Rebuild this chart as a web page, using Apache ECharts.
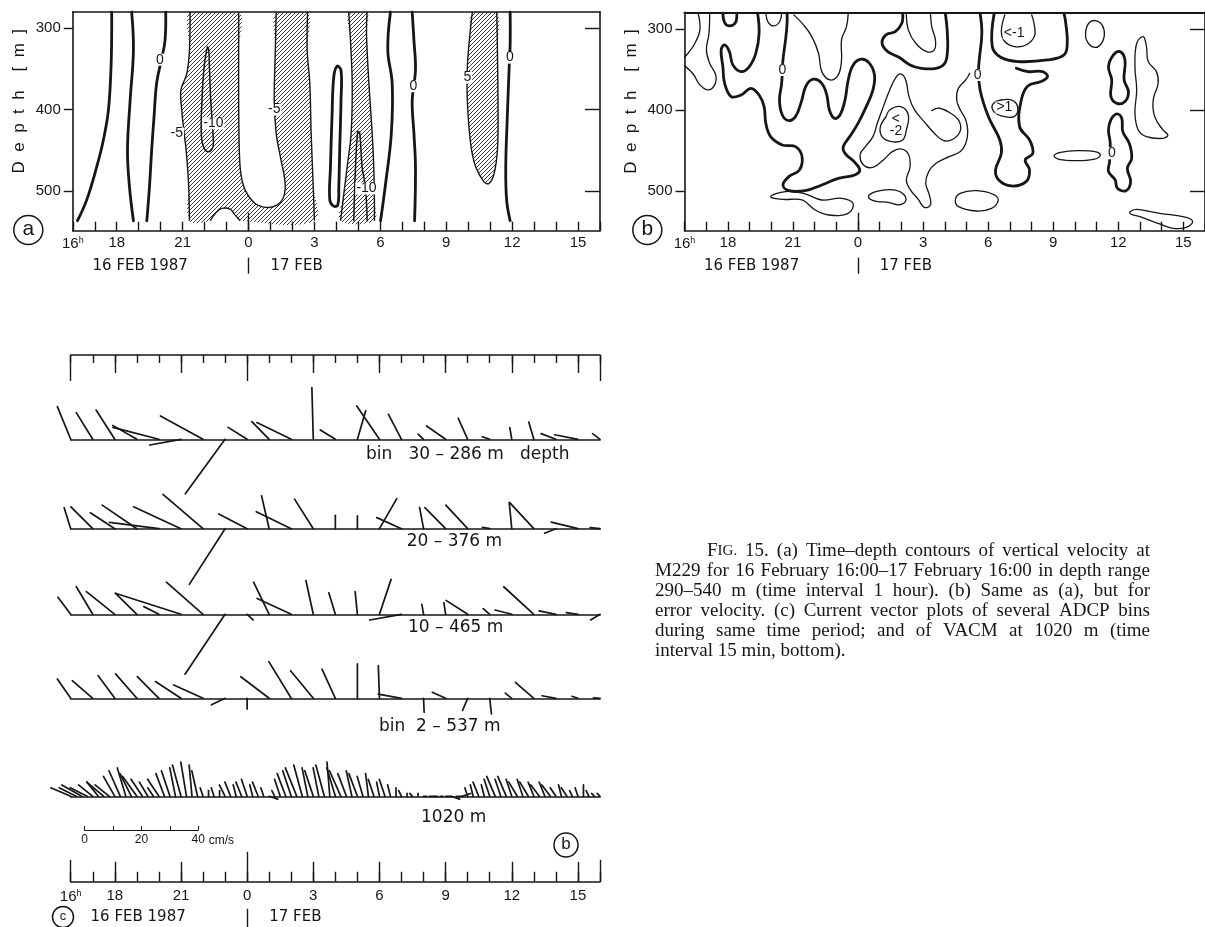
<!DOCTYPE html>
<html><head><meta charset="utf-8">
<script src="https://cdn.jsdelivr.net/npm/echarts@6/dist/echarts.min.js"></script>
<style>html,body{margin:0;padding:0;background:#fff}#c{width:1205px;height:927px}</style>
</head><body><div id="c"></div>
<script>
// ---------------- DATA ----------------
const LABEL_HOURS = [16, 18, 21, 24, 27, 30, 33, 36, 39];
const DATE_LABEL_POS = [16.9, 25];
const DATE_LABELS = ['16 FEB 1987', '17 FEB'];
const DEPTH_TICKS = [300, 400, 500];
const THREE_HOURLY = [18, 21, 27, 30, 33, 36, 39];

// Panel (a): vertical velocity contours, points are [hour since 16 Feb 00h, depth m]
const A_ZERO_LINES = [
  [[16.21,536.3],[16.63,511],[17.09,470],[17.39,437.5],[17.62,401],[17.74,348],[17.77,307],[17.77,280.4]],
  [[18.68,280.4],[18.76,327],[18.61,388.6],[18.49,449.8],[18.58,494.7],[18.76,536.3]],
  [[20.23,280.4],[20.20,315],[20.05,337],[19.82,367],[19.70,408],[19.59,449.8],[19.49,494.7],[19.37,536.3]],
  [[28.03,346.9],[28.21,351.8],[28.21,388.6],[28.15,449.8],[28.11,494.7],[28.06,517.1],[27.88,518.4],[27.70,511],[27.73,470.2],[27.80,409],[27.88,360],[28.03,346.9]],
  [[30.46,280.4],[30.34,327.3],[30.54,368.2],[30.50,429.4],[30.24,490.6],[30.01,536.3]],
  [[31.45,280.4],[31.53,315.1],[31.60,351.8],[31.45,388.6],[31.53,429.4],[31.60,470.2],[31.56,536.3]],
  [[35.91,280.4],[35.91,319.2],[35.86,351.8],[35.78,409],[35.71,470.2],[35.75,511],[35.91,536.3]]
];
const A_OTHER_LINES = [
  [[22.13,323.3],[21.98,347.8],[21.88,388.6],[21.85,429.4],[21.95,445.7],[22.18,451.8],[22.38,445.7],[22.38,429.4],[22.28,388.6],[22.22,347.8],[22.19,327.3],[22.13,323.3]],
  [[28.79,536.3],[28.87,470.2],[28.97,427.3],[29.06,428.6],[29.17,470.2],[29.32,494.7],[29.40,536.3]]
];
const A_HATCHED = [
  [[21.34,280.4],[21.31,327.3],[21.19,355.9],[20.92,376.3],[20.96,400.8],[21.07,429.4],[21.16,449.8],[21.27,490.6],[21.31,536.3],[22.26,536.3],[22.48,527.3],[22.79,521.2],[23.17,522.4],[23.39,529.4],[23.62,536.3],[27.0,536.3],[26.94,490.6],[26.85,429.4],[26.79,368.2],[26.67,327.3],[26.69,280.4],[25.26,280.4],[25.22,327.3],[25.17,388.6],[25.26,429.4],[25.45,458],[25.63,482.4],[25.67,496.7],[25.57,509],[25.29,517.1],[24.84,520],[24.30,515.1],[23.85,498.8],[23.65,478.4],[23.58,449.8],[23.55,388.6],[23.55,327.3],[23.55,280.4]],
  [[28.56,280.4],[28.64,315.1],[28.72,368.2],[28.67,429.4],[28.49,470.2],[28.34,502.9],[28.19,536.3],[29.73,536.3],[29.73,511],[29.70,470.2],[29.63,429.4],[29.48,368.2],[29.37,307],[29.40,280.4]],
  [[34.19,280.4],[35.30,280.4],[35.33,327.3],[35.36,409],[35.33,449.8],[35.18,478.4],[34.95,490.6],[34.72,488.6],[34.34,470.2],[34.11,441.6],[33.96,388.6],[33.96,347.8],[34.08,307]]
];
const A_LABELS = [[19.97,338.8,'0'],[20.73,429.4,'-5'],[22.40,417,'-10'],[25.17,400,'-5'],[29.37,496.7,'-10'],[31.50,371.4,'0'],[33.96,360.8,'5'],[35.90,336.3,'0']];

// Panel (b): error velocity contours
const B_ZERO_LINES = [
  [[17.77,280.7],[17.85,292.2],[18.07,296.3],[18.35,292.2],[18.41,280.7]],
  [[19.37,280.7],[19.44,305.3],[19.29,330],[18.99,346.5],[18.61,352.7],[18.23,344.4],[18.07,328],[17.85,319.8],[17.69,325.9],[17.77,346.5],[17.85,367.1],[18.15,383.5],[18.61,381.5],[19.06,373.3],[19.44,381.5],[19.67,395.9],[19.75,416.5],[19.97,432.9],[20.51,443.2],[21.12,445.3],[21.42,457.6],[21.30,474.1],[20.81,482.3],[20.54,492.6],[20.81,499.6],[21.57,499.6],[22.33,492.6],[23.09,484.4],[23.85,480.2],[24.08,474.1],[23.82,463.8],[23.40,453.5],[23.32,445.3],[23.62,432.9],[24.00,416.5],[24.38,395.9],[24.69,375.3],[24.76,356.8],[24.53,342.4],[24.16,337.4],[23.78,344.4],[23.55,363],[23.40,387.7],[23.17,406.2],[22.91,410.3],[22.68,400],[22.56,381.5],[22.33,367.1],[21.95,362.1],[21.60,370.4],[21.39,389.7],[21.12,408.2],[20.81,413.2],[20.51,406.2],[20.38,387.7],[20.48,367.1],[20.54,338.3],[20.66,313.6],[20.73,293],[20.73,280.7]],
  [[26.06,280.7],[26.02,293],[25.72,303.3],[25.29,307.4],[25.11,317.7],[25.37,328],[25.89,335],[26.40,344.4],[26.92,348.6],[27.60,348.6],[27.98,343.2],[28.12,330],[28.12,305.3],[28.03,281]],
  [[29.63,280.7],[29.71,305.3],[29.59,338.3],[29.56,350.6],[29.63,375.3],[30.01,408.2],[30.54,437],[30.61,453.5],[30.34,474.1],[30.49,486.4],[31.07,493.8],[31.75,488.5],[31.91,474.1],[31.71,461.7],[32.06,453.5],[31.91,437],[31.45,420.6],[31.53,387.7],[31.83,370.4],[32.44,365],[32.74,358.8],[32.51,352.7],[31.83,352.7],[31.30,348.6]],
  [[30.28,280.7],[30.19,321.8],[30.58,335],[31.37,340.3],[32.74,338.3],[33.50,332.1],[33.65,317.7],[33.58,293],[33.50,280.7]],
  [[35.78,332.1],[36.08,328],[36.31,338.3],[36.27,363],[36.47,377.4],[36.31,389.7],[35.93,391.8],[35.66,383.5],[35.70,363],[35.55,346.5],[35.78,332.1]],
  [[35.66,412.3],[35.93,404.9],[36.16,410.3],[36.21,426.7],[36.51,441.2],[36.62,459.7],[36.42,472],[36.57,488.5],[36.36,499.6],[35.96,496.7],[35.86,486.4],[35.55,476.1],[35.60,463.8],[35.63,441.2],[35.55,424.7],[35.66,412.3]]
];
const B_OTHER_LINES = [
  [[16.63,280.7],[16.71,301.2],[16.48,317.7],[16.17,330],[16.0,335]],
  [[16.0,345.3],[16.40,355.6],[16.71,369.1],[17.09,375.3],[17.39,369.1],[17.44,356.8],[17.16,342.4],[17.01,325.9],[17.13,305.3],[17.16,280.7]],
  [[19.75,280.7],[19.87,292.2],[20.13,296.3],[20.39,290.9],[20.48,280.7]],
  [[21.04,282.7],[21.49,295.1],[21.87,309.5],[22.18,330],[22.33,352.7],[22.71,363],[23.09,356.8],[23.24,338.3],[23.24,313.6],[23.47,297.1],[23.55,280.7]],
  [[19.97,507],[20.66,500.8],[21.49,502.9],[22.33,511.1],[23.24,509],[23.77,515.2],[23.55,527.6],[22.64,529.6],[22.03,523.5],[21.42,511.1],[20.51,510.3],[19.97,507]],
  [[25.46,400],[25.97,395.9],[26.32,406.2],[26.23,424.7],[26.06,437],[25.54,439.1],[25.11,432.9],[25.03,420.6],[25.29,408.2],[25.46,400]],
  [[29.15,354.7],[28.97,363],[28.63,373.3],[28.55,387.7],[28.72,400],[28.97,412.3],[29.06,426.7],[28.97,441.2],[28.72,451.4],[28.20,457.6],[27.60,465.8],[27.26,476.1],[27.12,490.5],[27.29,504.9],[27.34,517.3],[27.05,520.2],[26.78,510.3],[26.40,497.9],[26.23,486.4],[26.40,470],[26.32,454.3],[25.97,448.1],[25.58,451.4],[25.17,461.7],[24.69,470.8],[24.25,468],[24.10,455],[24.34,445.3],[24.69,432.9],[24.89,416.5],[25.17,395.9],[25.46,375.3],[25.75,359.7],[25.97,355.6],[26.20,363],[26.35,383.5],[26.61,400],[27.05,414.4],[27.52,428.8],[27.95,437.9],[28.37,436.2],[28.72,425.5],[28.63,412.3],[28.20,402.9],[27.74,397.9],[27.40,400.8]],
  [[24.51,504.9],[25.03,499.6],[25.72,498.8],[26.10,504],[26.20,512],[25.90,517],[25.40,514],[24.90,513],[24.55,510],[24.51,504.9]],
  [[26.23,280.7],[26.32,301.2],[26.66,317.7],[27.17,328],[27.52,325.9],[27.57,313.6],[27.40,297.1],[27.34,280.7]],
  [[30.77,282.7],[30.61,303.3],[30.77,315.6],[31.22,321.8],[31.75,319.8],[32.13,309.5],[32.13,295.1],[32.01,282.7]],
  [[30.23,392.6],[30.61,387.7],[31.14,388.5],[31.37,397.9],[31.19,408.2],[30.61,407.4],[30.23,400.8],[30.23,392.6]],
  [[28.49,511.1],[28.71,502.9],[29.47,499.6],[30.31,505],[30.46,512.3],[30.16,521.4],[29.47,524.7],[28.64,519.3],[28.49,511.1]],
  [[33.04,456.4],[33.34,452.3],[34.10,450.2],[35.02,451.9],[35.17,456.4],[34.86,460.9],[34.10,462.6],[33.27,460.9],[33.04,456.4]],
  [[34.49,305.3],[34.64,293],[34.94,289.7],[35.25,295.1],[35.36,307.4],[35.17,319.8],[34.87,322.6],[34.57,315.6],[34.49,305.3]],
  [[36.85,317.7],[37.15,309.5],[37.30,321.8],[37.38,340.3],[37.76,352.7],[37.84,367.1],[37.61,387.7],[37.68,408.2],[38.06,424.7],[38.29,430.9],[38.06,435],[37.30,432.9],[36.92,424.7],[36.77,404.1],[36.85,375.3],[36.77,346.5],[36.85,317.7]],
  [[36.54,525.5],[36.85,522.6],[37.91,527.6],[39.13,532.5],[39.43,537.9],[39.13,544.9],[38.52,546.1],[37.91,540.7],[37.00,531.7],[36.57,528.4],[36.54,525.5]]
];
const B_LABELS = [[20.51,350.6,'0'],[29.52,356.8,'0'],[35.71,453.5,'0'],[31.2,305.3,'<-1'],[30.75,397,'>1'],[25.75,418.5,'<\n-2']];

// Panel (c): current vectors [u east, v north] in cm/s, hourly 16:00 .. 16:00
const BIN30 = [[-4.7,11.5],[-5.8,9.4],[-6.6,10.3],[-8.5,4.9],[-16.2,4.2],[-11.0,-2.0],[-15.0,8.2],[-14.0,-19.2],[-6.7,4.2],[-6.1,6.2],[-12.1,5.9],[-0.5,18.2],[-5.3,3.3],[2.9,10.0],[-8.0,11.7],[-4.6,8.8],[-1.9,1.8],[-6.7,4.7],[-3.3,7.4],[-2.6,0.9],[-0.7,4.1],[-1.8,6.1],[-5.2,2.0],[-8.2,1.6],[-2.6,2.0]];
const BIN20 = [[-2.3,7.4],[-7.7,7.7],[-8.6,5.6],[-12.2,8.3],[-17.4,2.2],[-16.7,7.7],[-14.1,12.1],[-12.6,-19.6],[-10.0,5.2],[-2.7,11.6],[-12.3,6.0],[-6.6,10.4],[0,4.7],[0,4.5],[6.1,10.6],[-8.7,3.9],[-1.4,7.4],[-7.3,7.4],[-7.7,8.3],[-2.6,0.5],[-0.9,9.2],[-8.5,9.2],[-4.0,-1.6],[-9.4,2.3],[-3.5,0.4]];
const BIN10 = [[-4.5,6.0],[-5.8,9.7],[-10.0,8.0],[-7.5,7.4],[-5.3,2.7],[-23.1,7.4],[-12.9,11.3],[-14.1,-21.1],[2.1,-2.0],[-5.5,11.3],[-12.0,5.6],[-2.6,11.9],[-2.3,7.6],[-0.8,8.0],[4.1,12.3],[-11.2,-2.0],[-0.6,3.5],[-0.6,4.1],[-7.6,4.9],[-2.3,2.0],[-5.9,1.5],[-10.6,9.7],[-5.9,1.2],[-4.1,0.6],[-3.3,-2.0]];
const BIN2 = [[-4.7,6.8],[-7.2,6.2],[-5.9,8.0],[-7.5,8.6],[-7.6,7.6],[-9.0,5.9],[-10.3,4.7],[-4.8,-2.3],[0,-3.8],[-10.0,7.6],[-7.9,12.9],[-8.0,9.7],[-4.7,10.3],[0,12.1],[-0.4,11.5],[-8.2,1.5],[0.2,-4.9],[-4.7,2.1],[-1.8,-4.3],[0.6,-5.5],[-2.3,1.8],[-6.5,5.6],[-4.9,0.9],[-2.1,0.7],[-2.3,0.2]];
// VACM 1020 m, every 15 min
const VACM1020 = [
 [-7,3],[-6,3],[-7,4],[-6,3], [-5,4],[-4,5],[-6,5],[-5,4], [-4,7],[-4,9],[-3,10],[-4,8],
 [-5,7],[-4,6],[-3,5],[-2,3], [-4,6],[-3,8],[-3,9],[-2,10], [-3,11],[-2,12],[-1,11],[-2,9],
 [-1,3],[0,2],[-1,3],[0,2], [-2,4],[-2,5],[-1,4],[-2,5], [-2,6],[-1,4],[-2,5],[-1,3],
 [3,-1],[-1,2],[-2,6],[-3,8], [-3,9],[-4,10],[-3,11],[-2,10], [-3,9],[-2,10],[-3,11],[-1,12],
 [-3,10],[-4,9],[-3,8],[-2,9], [-3,8],[-2,7],[-1,8],[-2,6], [-1,5],[-2,6],[-1,4],[0,3],
 [-1,2],[0,1],[-1,1],[0,1], [1,0],[2,0],[1,0],[1,0], [2,0],[3,-1],[2,0],[3,1],
 [-1,3],[-1,4],[-2,5],[-1,4], [-2,6],[-3,7],[-2,6],[-3,7], [-2,6],[-3,5],[-2,6],[-3,5],
 [-2,5],[-3,4],[-2,5],[-3,4], [-2,3],[-1,4],[-2,3],[-1,2], [-1,3],[0,4],[-1,2],[-1,1],
 [-1,1]
];
const BIN_NAMES = ['bin   30 – 286 m   depth', '20 – 376 m', '10 – 465 m', 'bin  2 – 537 m', '1020 m'];
const SCALE_LABELS = [0, 20, 40];
const CAPTION_LINES = [
  'FIG. 15. (a) Time–depth contours of vertical velocity at',
  'M229 for 16 February 16:00–17 February 16:00 in depth range',
  '290–540 m (time interval 1 hour). (b) Same as (a), but for',
  'error velocity. (c) Current vector plots of several ADCP bins',
  'during same time period; and of VACM at 1020 m (time',
  'interval 15 min, bottom).'
];

// ---------------- STYLE / LAYOUT ----------------
const INK = '#161616';
const SANS = '"Liberation Sans", Arial, sans-serif';
const WIDE = '"DejaVu Sans", "Liberation Sans", sans-serif';
const SERIF = '"Liberation Serif", "Times New Roman", serif';
const K = 2.84; // px per cm/s in panel (c)
const BASES = [439.3, 528.7, 614.3, 698.3, 796.3];

function hatchCanvas() {
  const c = document.createElement('canvas'); c.width = 4; c.height = 4;
  const g = c.getContext('2d'); g.strokeStyle = '#262626'; g.lineWidth = 0.9;
  g.beginPath(); g.moveTo(0, 4); g.lineTo(4, 0); g.moveTo(-1, 1); g.lineTo(1, -1); g.moveTo(3, 5); g.lineTo(5, 3); g.stroke();
  return c;
}
const HATCH = { image: hatchCanvas(), repeat: 'repeat' };

function hourFmt(v) { return v === 16 ? '16{s|h}' : String(v % 24); }
const lineSt = (w) => ({ color: INK, width: w });

const grids = [], xAxes = [], yAxes = [];
function addGrid(rect, xCfgs, yCfgs) {
  const g = grids.length; grids.push(rect);
  const xi = xAxes.length, yi = yAxes.length;
  xCfgs.forEach(c => xAxes.push(Object.assign({ gridIndex: g }, c)));
  yCfgs.forEach(c => yAxes.push(Object.assign({ gridIndex: g }, c)));
  return { g: g, x: xi, y: yi };
}
function tx(extra) {
  return Object.assign({ type: 'value', min: 16, max: 40, interval: 1,
    splitLine: { show: false }, axisLine: { show: false, onZero: false }, axisTick: { show: false }, axisLabel: { show: false } }, extra);
}
const noLine = { show: false, onZero: false };
const dummyY = { type: 'value', show: false, min: 0, max: 1, axisLine: { onZero: false } };
const hourLabel = (margin) => ({ show: true, customValues: LABEL_HOURS, formatter: hourFmt, margin: margin, color: INK,
  fontSize: 15, fontFamily: SANS, rich: { s: { fontSize: 9, fontFamily: SANS, color: INK, verticalAlign: 'top', padding: [0, 0, 7, 0] } } });
const dateLabel = (margin) => ({ show: true, customValues: DATE_LABEL_POS, formatter: v => v < 24 ? DATE_LABELS[0] : DATE_LABELS[1],
  align: 'left', margin: margin, color: INK, fontSize: 15, fontFamily: WIDE });

function depthAxes(min, max) {
  const base = { type: 'value', inverse: true, min: min, max: max, splitLine: { show: false } };
  return [
    Object.assign({}, base, { position: 'left', axisLine: { show: true, onZero: false, lineStyle: lineSt(1.6) },
      axisTick: { show: true, inside: false, length: 9, customValues: DEPTH_TICKS, lineStyle: lineSt(1.4) },
      axisLabel: { customValues: DEPTH_TICKS, margin: 12, color: INK, fontSize: 15, fontFamily: SANS },
      name: 'D  e  p  t  h    [  m  ]', nameLocation: 'middle', nameRotate: 90, nameGap: 45,
      nameTextStyle: { color: INK, fontSize: 17, fontFamily: SANS, padding: [0, 0, 0, 40] } }),
    Object.assign({}, base, { position: 'right', axisLine: { show: true, onZero: false, lineStyle: lineSt(1.6) },
      axisTick: { show: true, inside: true, length: 15, customValues: DEPTH_TICKS, lineStyle: lineSt(1.4) }, axisLabel: { show: false } })
  ];
}
function contourPanel(rect, dmin, dmax, topW) {
  const main = addGrid(rect, [
    tx({ position: 'bottom', axisLine: { show: true, onZero: false, lineStyle: lineSt(1.6) },
      axisTick: { show: true, inside: true, length: 9, lineStyle: lineSt(1.4) }, axisLabel: hourLabel(5) }),
    tx({ position: 'top', axisLine: { show: true, onZero: false, lineStyle: lineSt(topW) } })
  ], depthAxes(dmin, dmax));
  addGrid(rect, [tx({ position: 'bottom', axisLine: noLine, axisTick: { show: true, inside: true, length: 18, customValues: [24], lineStyle: lineSt(1.4) } })], [dummyY]);
  addGrid(rect, [tx({ position: 'bottom', offset: 27, axisLine: noLine, axisTick: { show: true, inside: false, length: 16, customValues: [24], lineStyle: lineSt(1.4) }, axisLabel: dateLabel(1) })], [dummyY]);
  return main;
}
const PA = contourPanel({ left: 72.8, top: 11.7, width: 527.2, height: 219 }, 280, 548.5, 1.6);
const PB = contourPanel({ left: 684.5, top: 12.3, width: 526.4, height: 218.4 }, 279.5, 549, 2.1);

// panel (c) frame: one grid per tick family
const CR = { left: 70.7, top: 355, width: 529.3, height: 526.8 };
addGrid(CR, [
  tx({ position: 'top', axisLine: { show: true, onZero: false, lineStyle: lineSt(1.6) }, axisTick: { show: true, inside: true, length: 8, lineStyle: lineSt(1.4) } }),
  tx({ position: 'bottom', axisLine: { show: true, onZero: false, lineStyle: lineSt(1.6) }, axisTick: { show: true, inside: true, length: 10, lineStyle: lineSt(1.4) }, axisLabel: hourLabel(7) })
], [dummyY]);
[['top', THREE_HOURLY, 18], ['top', [16, 24, 40], 26], ['bottom', THREE_HOURLY, 20], ['bottom', [16, 40], 22], ['bottom', [24], 30]].forEach(t =>
  addGrid(CR, [tx({ position: t[0], axisLine: noLine, axisTick: { show: true, inside: true, length: t[2], customValues: t[1], lineStyle: lineSt(1.4) } })], [dummyY]));
addGrid(CR, [tx({ position: 'bottom', offset: 27, axisLine: noLine, axisTick: { show: true, inside: false, length: 22, customValues: [24], lineStyle: lineSt(1.4) }, axisLabel: dateLabel(1) })], [dummyY]);

const BINS = BASES.map(b => addGrid({ left: 70.7, top: b - 15 * K, width: 529.3, height: 40 * K },
  [tx({ axisLine: { show: true, onZero: true, lineStyle: lineSt(1.6) } })],
  [{ type: 'value', show: false, min: -25, max: 15 }]));

addGrid({ left: 84.6, top: 820, width: 40 * K, height: 10 }, [{ type: 'value', min: 0, max: 40, interval: 10, position: 'bottom', splitLine: { show: false },
  axisLine: { show: true, onZero: false, lineStyle: lineSt(1.2) }, axisTick: { show: true, inside: true, length: 4, lineStyle: lineSt(1) },
  axisLabel: { customValues: SCALE_LABELS, margin: 4, color: INK, fontSize: 12, fontFamily: SANS },
  name: 'cm/s', nameLocation: 'end', nameGap: 8, nameTextStyle: { color: INK, fontSize: 12, fontFamily: SANS, verticalAlign: 'top', padding: [5, 0, 0, 0] } }], [dummyY]);

// ---------------- RENDERERS ----------------
function cons(params) { const c = params.coordSys; return [[c.x, c.y], [c.x + c.width, c.y + c.height]]; }
function isClosed(l) { const a = l[0], b = l[l.length - 1]; return l.length > 2 && a[0] === b[0] && a[1] === b[1]; }
function contourSeries(lines, ax, width) {
  return { type: 'custom', xAxisIndex: ax.x, yAxisIndex: ax.y, silent: true, z: 3, encode: { x: 0, y: 1 },
    data: lines.map(l => [l[0][0], l[0][1]]),
    renderItem: function (params, api) {
      const l = lines[params.dataIndex];
      const closed = isClosed(l);
      const pts = (closed ? l.slice(0, -1) : l).map(p => api.coord(p));
      return { type: closed ? 'polygon' : 'polyline', shape: { points: pts, smooth: 0.4, smoothConstraint: cons(params) },
        style: { fill: 'none', stroke: INK, lineWidth: width, lineJoin: 'round', lineCap: 'round' } };
    } };
}
function hatchSeries(polys, ax, dmin, dmax) {
  const onEdge = (a, b) => (a[1] <= dmin + 0.6 && b[1] <= dmin + 0.6) || (a[1] >= dmax - 0.6 && b[1] >= dmax - 0.6);
  return { type: 'custom', xAxisIndex: ax.x, yAxisIndex: ax.y, silent: true, z: 2, encode: { x: 0, y: 1 },
    data: polys.map(p => [p[0][0], p[0][1]]),
    renderItem: function (params, api) {
      const poly = polys[params.dataIndex], n = poly.length, cn = cons(params);
      const children = [{ type: 'polygon', shape: { points: poly.map(p => api.coord(p)), smooth: 0.35, smoothConstraint: cn }, style: { fill: HATCH, stroke: null } }];
      let start = 0;
      for (let i = 0; i < n; i++) { if (onEdge(poly[i], poly[(i + 1) % n])) { start = (i + 1) % n; break; } }
      const runs = []; let cur = [poly[start]];
      for (let k = 0; k < n; k++) {
        const i = (start + k) % n, j = (i + 1) % n;
        if (onEdge(poly[i], poly[j])) { if (cur.length > 1) runs.push(cur); cur = [poly[j]]; } else cur.push(poly[j]);
      }
      if (cur.length > 1) runs.push(cur);
      runs.forEach(r => children.push({ type: 'polyline', shape: { points: r.map(p => api.coord(p)), smooth: 0.35, smoothConstraint: cn },
        style: { fill: 'none', stroke: INK, lineWidth: 1.4 } }));
      return { type: 'group', children: children };
    } };
}
function labelSeries(labels, ax) {
  return { type: 'custom', xAxisIndex: ax.x, yAxisIndex: ax.y, silent: true, z: 5, encode: { x: 0, y: 1 },
    data: labels.map(l => [l[0], l[1]]),
    renderItem: function (params, api) {
      const p = api.coord([api.value(0), api.value(1)]);
      return { type: 'text', x: p[0], y: p[1], style: { text: labels[params.dataIndex][2], fill: INK, font: '14px ' + SANS,
        align: 'center', verticalAlign: 'middle', backgroundColor: '#fff', padding: [0, 1], lineHeight: 12 } };
    } };
}
function stickSeries(vals, step, ax) {
  return { type: 'custom', xAxisIndex: ax.x, yAxisIndex: ax.y, silent: true, z: 4, clip: false, encode: { x: 0, y: 1 },
    data: vals.map((uv, i) => [16 + i * step, uv[0], uv[1]]),
    renderItem: function (params, api) {
      const p = api.coord([api.value(0), 0]);
      const k = api.size([0, 1])[1];
      return { type: 'line', shape: { x1: p[0], y1: p[1], x2: p[0] + api.value(1) * k, y2: p[1] - api.value(2) * k },
        style: { stroke: INK, lineWidth: 1.7, lineCap: 'round' } };
    } };
}

const series = [
  hatchSeries(A_HATCHED, PA, 280.4, 536.3),
  contourSeries(A_ZERO_LINES, PA, 2.8),
  contourSeries(A_OTHER_LINES, PA, 1.5),
  labelSeries(A_LABELS, PA),
  contourSeries(B_ZERO_LINES, PB, 2.8),
  contourSeries(B_OTHER_LINES, PB, 1.3),
  labelSeries(B_LABELS, PB),
  stickSeries(BIN30, 1, BINS[0]),
  stickSeries(BIN20, 1, BINS[1]),
  stickSeries(BIN10, 1, BINS[2]),
  stickSeries(BIN2, 1, BINS[3]),
  stickSeries(VACM1020, 0.25, BINS[4])
];

// ---------------- GRAPHIC TEXT ----------------
const graphic = [];
function circ(cx, cy, r, t, fs) {
  graphic.push({ type: 'circle', shape: { cx: cx, cy: cy, r: r }, style: { fill: 'none', stroke: INK, lineWidth: 1.5 } });
  graphic.push({ type: 'text', x: cx, y: cy - 1, style: { text: t, font: fs + 'px ' + SANS, fill: INK, align: 'center', verticalAlign: 'middle' } });
}
circ(28.3, 230, 14.5, 'a', 21);
circ(647.3, 230, 14.5, 'b', 21);
circ(566, 845, 12, 'b', 17);
circ(63, 917, 10.5, 'c', 13);
const binLabelPos = [[366, 455], [406.7, 541.7], [408, 627.3], [379, 726.7], [421, 818]];
BIN_NAMES.forEach((t, i) => graphic.push({ type: 'text', x: binLabelPos[i][0], y: binLabelPos[i][1],
  style: { text: t, font: '17px ' + WIDE, fill: INK, align: 'left', verticalAlign: 'middle' } }));

(function caption() {
  const ctx = document.createElement('canvas').getContext('2d');
  const FS = 19, font = FS + 'px ' + SERIF, smallFont = '15px ' + SERIF;
  const right = 1150;
  CAPTION_LINES.forEach((line, li) => {
    const x0 = li === 0 ? 707 : 655, y = 551 + 20 * li;
    const words = line.split(' ');
    const widths = words.map(w => {
      if (w === 'FIG.') { ctx.font = font; const a = ctx.measureText('F').width; ctx.font = smallFont; return a + ctx.measureText('IG.').width; }
      ctx.font = font; return ctx.measureText(w).width;
    });
    ctx.font = font; const sp = ctx.measureText(' ').width;
    const total = widths.reduce((s, w) => s + w, 0);
    const gap = (li < CAPTION_LINES.length - 1 && words.length > 1) ? (right - x0 - total) / (words.length - 1) : sp;
    let x = x0;
    words.forEach((w, i) => {
      if (w === 'FIG.') {
        graphic.push({ type: 'text', x: x, y: y, style: { text: '{a|F}{b|IG.}', rich: { a: { font: font, fill: INK }, b: { font: smallFont, fill: INK } }, align: 'left', verticalAlign: 'middle' } });
      } else {
        graphic.push({ type: 'text', x: x, y: y, style: { text: w, font: font, fill: INK, align: 'left', verticalAlign: 'middle' } });
      }
      x += widths[i] + gap;
    });
  });
})();

const chart = echarts.init(document.getElementById('c'), null, { renderer: 'canvas' });
chart.setOption({ backgroundColor: '#fff', animation: false, grid: grids, xAxis: xAxes, yAxis: yAxes, series: series, graphic: graphic });
</script></body></html>
